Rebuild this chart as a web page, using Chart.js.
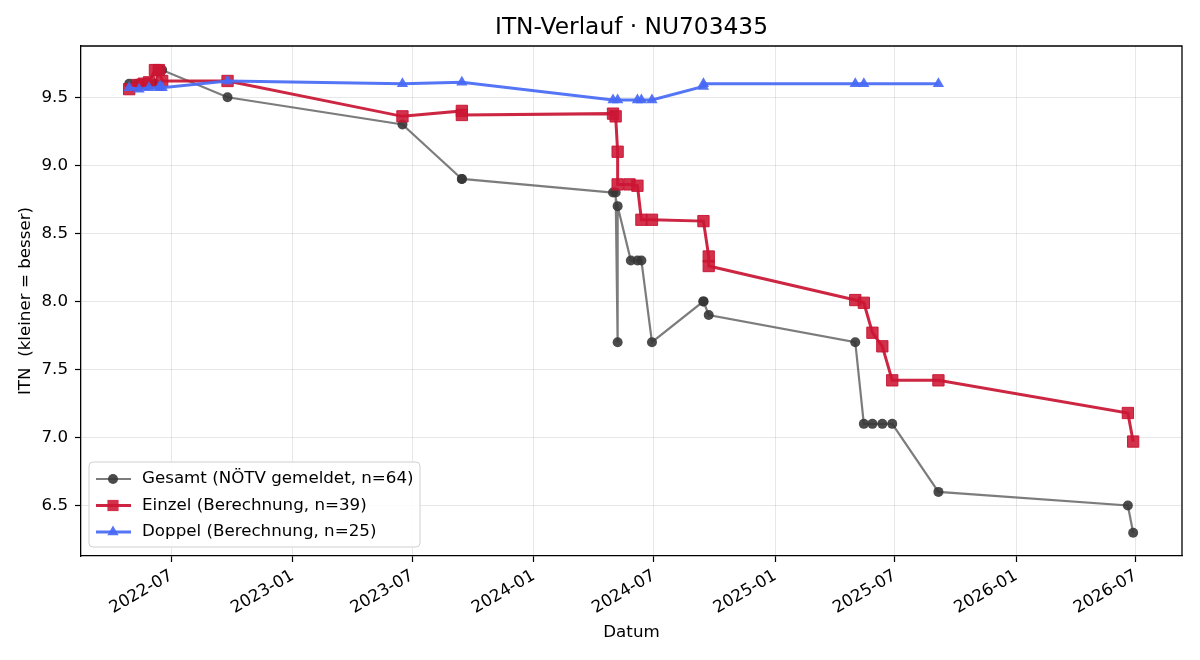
<!DOCTYPE html>
<html lang="de">
<head>
<meta charset="UTF-8">
<title>ITN-Verlauf · NU703435</title>
<script src="https://cdn.jsdelivr.net/npm/chart.js"></script>
<style>
  html, body { margin: 0; padding: 0; background: #fff; }
</style>
</head>
<body>
<canvas id="itn" width="1200" height="660"></canvas>
<script>
// Gesamt (NÖTV gemeldet)
const gesamtDaten = ['2022-04-28', '2022-05-10', '2022-05-13', '2022-05-20', '2022-05-28', '2022-06-06', '2022-06-12', '2022-06-14', '2022-06-17',
  '2022-09-24', '2023-06-16', '2023-09-14', '2023-09-14', '2024-04-30', '2024-05-04', '2024-05-07', '2024-05-07',
  '2024-05-27', '2024-06-06', '2024-06-12', '2024-06-28', '2024-09-14', '2024-09-14', '2024-09-22',
  '2025-05-02', '2025-05-15', '2025-05-28', '2025-06-12', '2025-06-27', '2025-09-05', '2026-06-19', '2026-06-27'];
const gesamtWerte = [9.6, 9.6, 9.6, 9.6, 9.6, 9.6, 9.7, 9.7, 9.7,
  9.5, 9.3, 8.9, 8.9, 8.8, 8.8, 7.7, 8.7,
  8.3, 8.3, 8.3, 7.7, 8.0, 8.0, 7.9,
  7.7, 7.1, 7.1, 7.1, 7.1, 6.6, 6.5, 6.3];

// Einzel (Berechnung)
const einzelDaten = ['2022-04-28', '2022-05-10', '2022-05-20', '2022-05-28', '2022-06-06', '2022-06-12', '2022-06-17',
  '2022-09-24', '2023-06-16', '2023-09-14', '2023-09-14', '2024-04-30', '2024-05-04', '2024-05-07', '2024-05-07',
  '2024-05-25', '2024-06-06', '2024-06-12', '2024-06-28', '2024-09-14', '2024-09-22', '2024-09-22',
  '2025-05-02', '2025-05-15', '2025-05-28', '2025-06-12', '2025-06-27', '2025-09-05', '2026-06-19', '2026-06-27'];
const einzelWerte = [9.56, 9.59, 9.60, 9.61, 9.70, 9.70, 9.62,
  9.62, 9.36, 9.40, 9.37, 9.38, 9.36, 9.10, 8.86,
  8.86, 8.85, 8.60, 8.60, 8.59, 8.33, 8.26,
  8.01, 7.99, 7.77, 7.67, 7.42, 7.42, 7.18, 6.97];

// Doppel (Berechnung)
const doppelDaten = ['2022-04-28', '2022-05-13', '2022-05-28', '2022-06-12', '2022-06-14', '2022-06-17',
  '2022-09-24', '2023-06-16', '2023-09-14', '2024-04-30', '2024-05-07', '2024-06-06', '2024-06-12', '2024-06-28',
  '2024-09-14', '2024-09-14', '2025-05-02', '2025-05-15', '2025-09-05'];
const doppelWerte = [9.57, 9.56, 9.57, 9.57, 9.58, 9.57,
  9.62, 9.60, 9.61, 9.48, 9.48, 9.48, 9.48, 9.48,
  9.58, 9.60, 9.60, 9.60, 9.60];

const xTickLabels = ['2022-07', '2023-01', '2023-07', '2024-01', '2024-07', '2025-01', '2025-07', '2026-01', '2026-07'];
const yTickWerte = [6.5, 7.0, 7.5, 8.0, 8.5, 9.0, 9.5];

const titel = 'ITN-Verlauf · NU703435';
const legendTexte = ['Gesamt (NÖTV gemeldet, n=64)', 'Einzel (Berechnung, n=39)', 'Doppel (Berechnung, n=25)'];

const FONT = 'DejaVu Sans';
Chart.defaults.font.family = FONT;
Chart.defaults.color = '#000';

function punkte(daten, werte) {
    return daten.map((d, i) => ({ x: Date.parse(d), y: werte[i] }));
}

const farben = {
    gesamtLinie: 'rgba(80,80,80,0.75)', gesamtPunkt: 'rgba(55,55,55,0.9)',
    einzelLinie: 'rgba(200,20,50,0.92)', einzelPunkt: 'rgba(205,22,52,0.88)',
    doppelLinie: 'rgba(75,110,245,0.95)', doppelPunkt: 'rgba(72,105,245,0.92)'
};

function marker(ctx, art, x, y, farbe) {
    ctx.save();
    ctx.fillStyle = farbe;
    ctx.beginPath();
    if (art === 'circle') {
        ctx.arc(x, y, 5, 0, Math.PI * 2);
    } else if (art === 'rect') {
        ctx.rect(x - 5.6, y - 5.6, 11.2, 11.2);
    } else {
        const r = 6.5;
        ctx.moveTo(x, y - r);
        ctx.lineTo(x + r * 0.866, y + r * 0.5);
        ctx.lineTo(x - r * 0.866, y + r * 0.5);
        ctx.closePath();
    }
    ctx.fill();
    ctx.restore();
}

// Titel über der Achse, oberer/rechter Rahmen, Legende unten links
const rahmenUndLegende = {
    id: 'rahmenUndLegende',
    afterDraw(chart) {
        const { ctx, chartArea: a } = chart;
        ctx.save();
        ctx.fillStyle = '#000';
        ctx.font = '23.3px "' + FONT + '"';
        ctx.textAlign = 'center';
        ctx.textBaseline = 'middle';
        ctx.fillText(titel, (a.left + a.right) / 2, 28);

        ctx.strokeStyle = '#000';
        ctx.lineWidth = 1.3;
        ctx.beginPath();
        ctx.moveTo(a.left, a.top);
        ctx.lineTo(a.right, a.top);
        ctx.lineTo(a.right, a.bottom);
        ctx.stroke();

        const bx = a.left + 8, by = a.bottom - 94, bw = 331, bh = 85;
        ctx.beginPath();
        ctx.roundRect(bx, by, bw, bh, 4);
        ctx.fillStyle = 'rgba(255,255,255,0.85)';
        ctx.fill();
        ctx.strokeStyle = '#d0d0d0';
        ctx.lineWidth = 1;
        ctx.stroke();

        const stile = [
            ['circle', farben.gesamtLinie, farben.gesamtPunkt, 2.2],
            ['rect', farben.einzelLinie, farben.einzelPunkt, 3],
            ['triangle', farben.doppelLinie, farben.doppelPunkt, 3]
        ];
        ctx.font = '16.7px "' + FONT + '"';
        ctx.textAlign = 'left';
        legendTexte.forEach((t, i) => {
            const y = by + 17 + i * 26.5;
            ctx.strokeStyle = stile[i][1];
            ctx.lineWidth = stile[i][3];
            ctx.beginPath();
            ctx.moveTo(bx + 7, y);
            ctx.lineTo(bx + 42, y);
            ctx.stroke();
            marker(ctx, stile[i][0], bx + 24, y, stile[i][2]);
            ctx.fillStyle = '#000';
            ctx.fillText(t, bx + 53, y);
        });
        ctx.restore();
    }
};

new Chart(document.getElementById('itn'), {
    type: 'line',
    data: {
        datasets: [
            {
                label: legendTexte[0], order: 3,
                data: punkte(gesamtDaten, gesamtWerte),
                borderColor: farben.gesamtLinie, borderWidth: 2.2,
                pointStyle: 'circle', pointRadius: 5,
                pointBackgroundColor: farben.gesamtPunkt, pointBorderColor: farben.gesamtPunkt, pointBorderWidth: 0
            },
            {
                label: legendTexte[1], order: 2,
                data: punkte(einzelDaten, einzelWerte),
                borderColor: farben.einzelLinie, borderWidth: 3,
                pointStyle: 'rect', pointRadius: 8,
                pointBackgroundColor: farben.einzelPunkt, pointBorderColor: farben.einzelLinie, pointBorderWidth: 1
            },
            {
                label: legendTexte[2], order: 1,
                data: punkte(doppelDaten, doppelWerte),
                borderColor: farben.doppelLinie, borderWidth: 3,
                pointStyle: 'triangle', pointRadius: 6.5,
                pointBackgroundColor: farben.doppelPunkt, pointBorderColor: farben.doppelPunkt, pointBorderWidth: 0
            }
        ]
    },
    options: {
        responsive: false,
        animation: false,
        devicePixelRatio: 1,
        events: [],
        layout: { padding: { left: 0, right: 18, top: 46, bottom: 0 } },
        plugins: {
            legend: { display: false },
            tooltip: { enabled: false },
            title: { display: false }
        },
        scales: {
            x: {
                type: 'linear',
                min: Date.parse('2022-02-14'),
                max: Date.parse('2026-09-09'),
                afterBuildTicks: s => { s.ticks = xTickLabels.map(l => ({ value: Date.parse(l + '-01') })); },
                afterFit: s => { s.height = 104; },
                ticks: {
                    autoSkip: false, minRotation: 30, maxRotation: 30, padding: 4,
                    font: { size: 16.7 }, color: '#000',
                    callback: v => new Date(v).toISOString().slice(0, 7)
                },
                grid: { color: 'rgba(176,176,176,0.3)', lineWidth: 1, tickColor: '#000', tickLength: 6, tickWidth: 1.2 },
                border: { color: '#000', width: 1.3 },
                title: { display: true, text: 'Datum', color: '#000', font: { size: 16.7 }, padding: { top: 4, bottom: 17 } }
            },
            y: {
                min: 6.129,
                max: 9.877,
                afterBuildTicks: s => { s.ticks = yTickWerte.map(v => ({ value: v })); },
                afterFit: s => { s.width = 81; },
                ticks: { padding: 7, font: { size: 16.7 }, color: '#000', callback: v => v.toFixed(1) },
                grid: { color: 'rgba(176,176,176,0.3)', lineWidth: 1, tickColor: '#000', tickLength: 6, tickWidth: 1.2 },
                border: { color: '#000', width: 1.3 },
                title: { display: true, text: 'ITN  (kleiner = besser)', color: '#000', font: { size: 16.7 }, padding: { top: 16, bottom: 4 } }
            }
        }
    },
    plugins: [rahmenUndLegende]
});
</script>
</body>
</html>
